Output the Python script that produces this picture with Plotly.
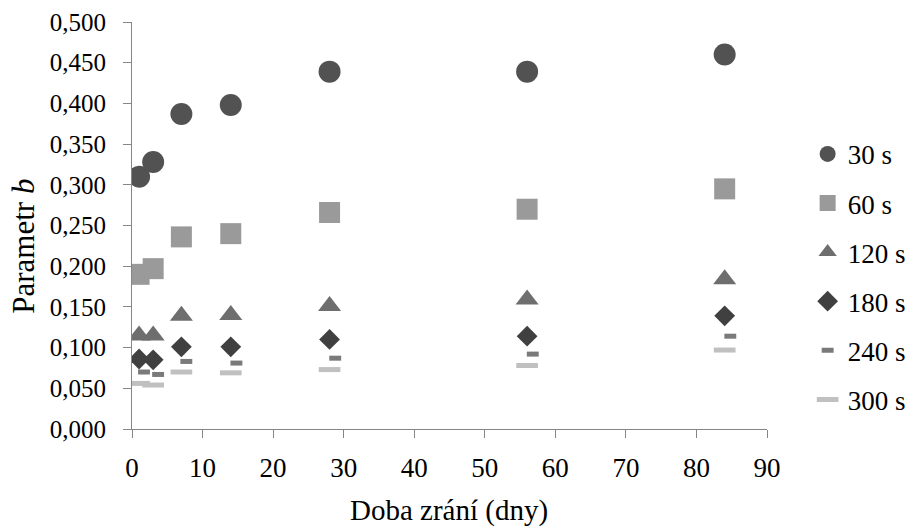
import plotly.graph_objects as go

# Data
days = [1, 3, 7, 14, 28, 56, 84]
days_240 = [1.7, 3.7, 7.7, 14.8, 28.8, 56.8, 84.8]  # dash markers sit slightly right in the picture

b_30 = [0.310, 0.328, 0.387, 0.398, 0.439, 0.439, 0.460]
b_60 = [0.190, 0.197, 0.236, 0.240, 0.266, 0.270, 0.295]
b_120 = [0.115, 0.115, 0.139, 0.140, 0.151, 0.159, 0.184]
b_180 = [0.086, 0.085, 0.101, 0.101, 0.110, 0.114, 0.139]
b_240 = [0.070, 0.067, 0.083, 0.081, 0.087, 0.092, 0.114]
b_300 = [0.056, 0.054, 0.070, 0.069, 0.073, 0.078, 0.097]

series_names = ["30 s", "60 s", "120 s", "180 s", "240 s", "300 s"]
y_ticks = [0.0, 0.05, 0.1, 0.15, 0.2, 0.25, 0.3, 0.35, 0.4, 0.45, 0.5]
x_ticks = [0, 10, 20, 30, 40, 50, 60, 70, 80, 90]

FONT = "Liberation Serif"

fig = go.Figure()

fig.add_trace(go.Scatter(x=days, y=b_30, mode="markers", name=series_names[0], legendgroup="a",
                         marker=dict(symbol="circle", size=22, color="#525252")))
fig.add_trace(go.Scatter(x=days, y=b_60, mode="markers", name=series_names[1], legendgroup="b",
                         marker=dict(symbol="square", size=21, color="#9a9a9a")))
fig.add_trace(go.Scatter(x=days, y=b_120, mode="markers", name=series_names[2], legendgroup="c",
                         marker=dict(symbol="triangle-up", size=20, color="#6e6e6e")))
fig.add_trace(go.Scatter(x=days, y=b_180, mode="markers", name=series_names[3], legendgroup="d",
                         marker=dict(symbol="diamond", size=16, color="#404040")))
fig.add_trace(go.Scatter(x=days_240, y=b_240, mode="markers", name=series_names[4], legendgroup="e",
                         marker=dict(symbol="line-ew", size=8.5,
                                     line=dict(width=5, color="#7a7a7a"))))
fig.add_trace(go.Scatter(x=days, y=b_300, mode="markers", name=series_names[5], legendgroup="f",
                         marker=dict(symbol="line-ew", size=15.5,
                                     line=dict(width=5, color="#c0c0c0"))))

axis_common = dict(showline=True, linecolor="#868686", linewidth=1, ticks="outside",
                   ticklen=8, tickcolor="#868686", tickwidth=1, showgrid=False,
                   zeroline=False, mirror=False)

fig.update_layout(
    width=913, height=530,
    margin=dict(l=131.7, r=146, t=22.3, b=100.7, autoexpand=False),
    paper_bgcolor="white", plot_bgcolor="white",
    separators=", ",
    font=dict(family=FONT, color="#000000", size=24),
    xaxis=dict(range=[0, 90], tickvals=x_ticks, tickfont=dict(family=FONT, size=27),
               ticklabelstandoff=7, **axis_common),
    yaxis=dict(range=[0, 0.5], tickvals=y_ticks, tickformat=".3f",
               tickfont=dict(family=FONT, size=25), ticklabelstandoff=12, **axis_common),
    legend=dict(x=1.064, xanchor="left", y=0.735, yanchor="top",
                font=dict(family=FONT, size=27), tracegroupgap=11, bgcolor="rgba(0,0,0,0)"),
    annotations=[
        dict(text="Doba zrání (dny)", xref="paper", yref="paper", x=0.499, y=-0.2,
             xanchor="center", yanchor="middle", showarrow=False,
             font=dict(family=FONT, size=29)),
        dict(text="Parametr <i>b</i>", xref="paper", yref="paper", x=-0.17, y=0.448,
             xanchor="center", yanchor="middle", textangle=-90, showarrow=False,
             font=dict(family=FONT, size=31)),
    ],
)

fig.write_html("out.html")
